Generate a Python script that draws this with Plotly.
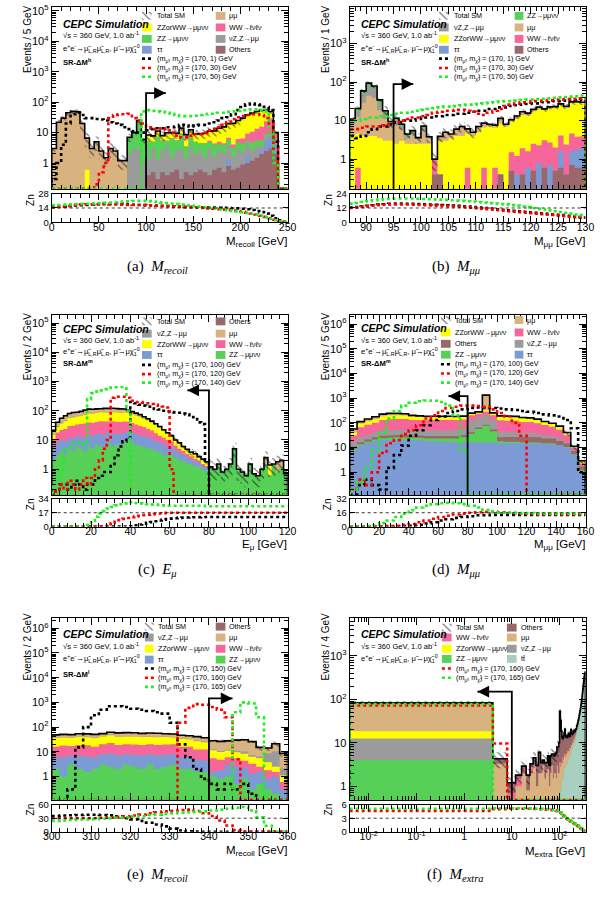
import numpy as np
import plotly.graph_objects as go

W, H = 612, 900
SANS = "Liberation Sans"
SERIF = "Liberation Serif"

COLORS = {"mumu": "#d8b27f", "ZZorWW": "#ffff00", "WW": "#f6669a", "ZZ": "#56d056",
          "nuZ": "#9b9b9b", "tautau": "#7c9bd5", "Others": "#9a676b", "tt": "#a9cfc0"}
SIG_COLORS = {"k": "#000000", "r": "#ff0000", "g": "#1fee1f"}
LABELS = {"mumu": "μμ", "ZZorWW": "ZZorWW→μμνν", "WW": "WW→ℓνℓν", "ZZ": "ZZ→μμνν",
          "nuZ": "νZ,Z→μμ", "tautau": "ττ", "Others": "Others", "tt": "tt\u0304", "TOT": "Total SM"}

DEC_VALS = [1, 10, 100, 1000, 1e4, 1e5, 1e6]
DEC_TEXT = ["1", "10", "10<sup>2</sup>", "10<sup>3</sup>", "10<sup>4</sup>", "10<sup>5</sup>", "10<sup>6</sup>"]
LOGX_VALS = [0.01, 0.1, 1, 10, 100]
LOGX_TEXT = ["10<sup>-2</sup>", "10<sup>-1</sup>", "1", "10", "10<sup>2</sup>"]
MINOR_LOG = [m * 10.0 ** e for e in range(-3, 7) for m in range(2, 10)]

# ===================== (a) M_recoil, 5 GeV bins =====================
edges_a = np.arange(0, 255, 5)
mumu_a = [3, 22, 30, 45, 50, 48, 20, 6, 3, 5, 2.5, 1.5, 3, 2.5, 1.2, 1.2, 0, 0, 0, 0,
          1, 0.8, 1, 0.5, 1.5, 1, 1, 2.5, 3, 2.5, 1, 1, 1, 0.8, 1, 1, 1, 1, 1, 1,
          1.5, 1.5, 1, 1, 1, 1, 0.5, 0, 0, 0]
zzww_a = [0, 0, 0, 0, 0, 0, 0, 0.6, 0, 0, 0, 0, 0, 0, 0, 0, 0, 0, 0, 0,
          2, 2, 3, 2, 3, 2.5, 3, 2, 2, 2.5, 3, 3.5, 4, 5, 6, 8, 10, 12, 15, 18,
          22, 28, 32, 35, 38, 30, 20, 1, 0, 0]
ww_a = [0] * 27 + [0.8, 0, 0, 0, 0, 0, 0.5, 0.3, 0.8, 0.5, 1, 1, 1.5, 2, 4, 6, 8, 10, 15, 20, 5, 0, 0]
zz_a = [0] * 16 + [5, 7, 22, 5, 4, 2, 6, 3, 2, 5, 3, 6, 2, 4, 3, 2, 3, 2, 2.5, 1.5, 2, 2, 1.5, 2,
                   2, 1.5, 2, 2, 2, 1.5, 1, 0, 0, 0]
nuz_a = [0] * 16 + [2, 3, 3, 1, 1, 2.5, 1, 2, 3, 1, 2, 2.5, 1, 3, 1.5, 2, 1, 2.5, 1, 2, 1.5, 2.5, 1, 2,
                    1.5, 2, 1.5, 2, 1, 1.5, 1, 0, 0, 0]
tau_a = [0] * 37 + [0.5, 0, 0, 0, 0.7, 0, 0, 0.6, 3, 4, 2, 0, 0]
oth_a = [0] * 20 + [0.4, 0.5, 0.3, 0.5, 0.4, 0.5, 0.6, 0.3, 0.5, 0.4, 0.5, 0.6, 0.5, 0.4, 0.6, 0.7, 0.5,
                    0.8, 0.6, 0.7, 0.9, 1.0, 1.2, 1.5, 2, 2.5, 3, 2, 0, 0]
err_a = [0.2] * 6 + [0.5] * 10 + [0.3] * 4 + [0.35] * 20 + [0.15] * 7 + [0.3] + [0] * 2
sig1_a = [0.3, 1, 4, 20, 40, 45, 38, 30, 30, 28, 27, 25, 22, 20, 18, 15, 13, 11, 10, 10,
          12, 13, 14, 14, 15, 15, 16, 18, 17, 16, 17, 18, 18, 20, 22, 25, 30, 32, 40, 55,
          70, 85, 90, 85, 80, 70, 55, 5, 0, 0]
sig2_a = [0] * 9 + [0.2, 0.5, 1, 30, 38, 40, 40, 42, 30, 25, 20, 15, 13, 13, 14, 12, 10, 8, 7, 7,
                    8, 9, 9, 10, 12, 13, 15, 18, 22, 28, 32, 35, 38, 40, 40, 38, 30, 20, 3, 0, 0]
sig3_a = [0] * 19 + [50, 55, 52, 50, 48, 45, 42, 38, 35, 35, 35, 36, 38, 40, 42, 42, 45, 45, 48, 50,
                     52, 55, 55, 58, 58, 55, 50, 10, 1, 0, 0]
zn1_a = [15.0, 15.3, 15.6, 15.9, 16.2, 16.5, 16.8, 17.1, 17.4, 17.7, 17.9, 18.0, 18.0, 17.9, 17.8,
         17.6, 17.4, 17.2, 17.0, 16.8, 16.6, 16.4, 16.2, 16.0, 15.8, 15.6, 15.4, 15.2, 15.0, 14.9,
         14.8, 14.7, 14.6, 14.5, 14.4, 14.3, 14.2, 14.0, 13.8, 13.6, 13.3, 12.8, 12.0, 11.0, 10.0,
         8.5, 6.5, 4.0, 2.0, 0.5]
zn2_a = [14.5, 15.0, 15.5, 16.0, 16.5, 17.0, 17.3, 17.5, 17.6, 17.7, 17.7, 17.6, 17.5, 17.4, 17.3,
         17.2, 17.1, 17.0, 16.9, 16.8, 16.7, 16.5, 16.3, 16.1, 15.9, 15.7, 15.5, 15.3, 15.1, 15.0,
         14.7, 14.4, 14.0, 13.6, 13.2, 12.8, 12.4, 12.0, 11.5, 11.0, 10.3, 9.5, 8.6, 7.6, 6.5,
         5.3, 4.0, 2.6, 1.3, 0.3]
zn3_a = [16.8, 17.0, 17.2, 17.4, 17.6, 17.8, 18.0, 18.2, 18.4, 18.6, 18.8, 19.0, 19.3, 19.6, 19.9,
         20.2, 20.5, 20.8, 21.0, 21.0, 20.7, 20.3, 19.8, 19.3, 18.8, 18.3, 17.8, 17.3, 16.8, 16.3,
         15.8, 15.3, 14.8, 14.2, 13.6, 13.0, 12.4, 11.8, 11.2, 10.6, 10.0, 9.2, 8.4, 7.5, 6.5,
         5.0, 3.5, 2.0, 0.8, 0.2]

# ===================== (b) M_mumu, 1 GeV bins, 87-130 =====================
edges_b = np.arange(87, 131, 1)
oth_b = [0] * 15 + [0.4, 0.4] + [0] * 10 + [0.4, 0, 0.5, 0, 0.4, 0, 0.5, 0, 0.6, 0, 0.5, 0.6, 0.4, 0.7, 0.6, 0.6]
tau_b = [0] * 30 + [0.4, 0, 0.6, 0, 0.8, 0, 0.7, 0, 1, 0, 0.9, 1.2, 1.3]
ww_b = [0, 0.6] + [0] * 13 + [0.6] + [0] * 5 + [0.6, 0, 0, 0.6, 0, 0.6, 0, 0, 1, 0.8, 1.5, 1, 2, 1.5, 2.5,
                                              2, 1.5, 2.5, 2, 3, 2, 2]
zzww_b = [4, 4, 4, 4, 4, 3.5, 3, 3, 2.5, 3, 2.5, 2.5, 2.5, 2.5, 2.5, 0, 2.5, 3, 3.5, 4, 4, 4, 4, 5, 6,
          7, 6, 8, 7, 8, 10, 12, 12, 15, 18, 16, 18, 20, 22, 20, 25, 25, 25]
mumu_b = [4, 8, 25, 40, 35, 15, 8, 4, 5, 3, 1, 2, 0.8, 3, 1, 0, 1, 2, 1, 2, 3, 1.5, 1, 2, 2,
          1, 1, 3, 1, 1, 2, 3, 2, 2, 2, 1, 2, 1, 1, 1, 1, 2, 1]
nuz_b = [1, 4, 20, 35, 30, 10, 4, 1.5, 2, 1, 0.5, 0.5, 0, 1, 0] + [0] * 28
zz_b = [2, 4, 10, 15, 10, 6, 3, 1, 2, 1, 0.5, 0.5, 0.3, 0.7, 0.3] + [0] * 28
err_b = [0.12] * 6 + [0.3] * 9 + [0.5] + [0.3] * 8 + [0.15] * 19
sig1_b = [4, 3.5, 4, 5, 6, 7, 7, 8, 9, 9, 10, 10, 11, 12, 12, 13, 13, 14, 14, 15, 15, 16, 17, 18, 18,
          20, 20, 22, 22, 24, 25, 26, 27, 28, 28, 30, 30, 32, 32, 33, 35, 34, 35]
sig2_b = [6, 6, 6.5, 7, 7, 7, 7.5, 8, 9, 10, 11, 12, 12, 13, 14, 16, 17, 18, 18, 19, 19, 18, 17, 15, 14,
          16, 18, 20, 24, 26, 28, 30, 30, 32, 32, 33, 34, 34, 35, 36, 36, 37, 38]
sig3_b = [9, 10, 11, 12, 12, 13, 13, 14, 15, 16, 16, 17, 18, 19, 20, 21, 22, 23, 23, 24, 25, 26, 26, 27,
          28, 29, 30, 31, 32, 32, 33, 34, 35, 35, 36, 37, 38, 39, 40, 41, 42, 43, 45]
zn1_b = [12.4, 12.8, 13.3, 13.8, 14.3, 14.8, 15.2, 15.5, 15.7, 15.7, 15.6, 15.5, 15.3, 15.1, 14.9,
         14.7, 14.5, 14.3, 14.0, 13.8, 13.5, 13.2, 12.8, 12.4, 12.0, 11.5, 11.0, 10.5, 10.0, 9.6,
         9.2, 8.8, 8.4, 8.0, 7.6, 7.2, 6.8, 6.4, 6.0, 5.5, 5.0, 4.5, 4.0]
zn2_b = [12.0, 12.4, 12.9, 13.4, 13.9, 14.3, 14.7, 15.0, 15.0, 15.0, 14.9, 14.8, 14.6, 14.4, 14.2,
         14.0, 13.8, 13.6, 13.4, 13.2, 13.0, 12.7, 12.3, 11.9, 11.5, 11.0, 10.5, 10.1, 9.7, 9.3,
         8.9, 8.5, 8.1, 7.7, 7.3, 6.9, 6.5, 6.1, 5.7, 5.2, 4.7, 4.3, 3.9]
zn3_b = [15.7, 16.2, 17, 17.8, 18.5, 19, 19.5, 19.8, 20, 20, 20, 20, 19.8, 19.6, 19.4, 19.2, 19,
         18.8, 18.5, 18.2, 18, 17.7, 17.4, 17, 16.6, 16.2, 15.8, 15.4, 15, 14.5, 14, 13.3, 12.7,
         12, 11.3, 10.7, 10, 9.3, 8.6, 8, 7.3, 6.6, 6]

# ===================== (c) E_mu, 2 GeV bins =====================
edges_c = np.arange(0, 122, 2)
zz_c = [2, 3, 4, 3, 5, 4, 6, 5, 4, 6, 5, 7, 6, 5, 8, 6, 7, 6, 8, 10, 8, 7, 6, 6, 5, 5, 4, 4, 3, 3,
        3, 2.5, 2, 2, 1.5, 1.5, 1.2, 1.2, 1, 0.8, 1.2, 1, 1.5, 0.8, 1, 1.5, 5, 1, 0.8, 0.6,
        1.5, 0.7, 0.6, 1, 1.5, 0.6, 1.5, 0.8, 1.2, 0.7]
tau_c = [3, 5, 6, 6, 7, 7, 8, 8, 8, 9, 9, 9, 10, 10, 10, 10, 10, 10, 10, 10, 10, 9, 8, 8, 7, 6, 5, 4, 4, 3,
         3, 2, 1.5, 1.2, 1, 0.8, 0.6, 0.5, 0.3, 0.3] + [0] * 20
ww_c = [5, 10, 12, 15, 18, 20, 20, 22, 25, 25, 25, 25, 28, 28, 25, 28, 25, 25, 25, 22, 20, 18, 16, 14, 12,
        10, 8, 6, 5, 4, 3, 2, 1.5, 1, 0.8, 0.5, 0.5, 0.3, 0.2, 0.2] + [0] * 20
zzww_c = [5, 10, 15, 20, 25, 28, 30, 32, 35, 40, 40, 42, 45, 45, 45, 45, 45, 45, 45, 42, 38, 35, 32, 25, 22,
          18, 15, 12, 8, 6, 4, 3, 2.5, 1.5, 1.2, 0.8, 0.8, 0.5, 0.5, 0.3] + [0] * 15 + [0.8, 0, 0, 0, 0]
nuz_c = [1, 2, 3, 3, 3, 3, 3, 3, 3, 3, 3, 3, 3, 2, 2, 2, 2, 2, 2, 2, 2, 1.5, 1.5, 1, 1, 1, 0.5, 0.5, 0.5,
         0.3, 0.3] + [0] * 29
mumu_c = [5, 10, 15, 20, 22, 25, 22, 25, 30, 30, 30, 30, 25, 30, 30, 30, 30, 28, 25, 20, 15, 12, 10, 8, 6,
          4, 3, 2, 1.5, 1, 0.8, 0.5, 0.5, 0.3, 0.3, 0.3, 0.3, 0.2, 0.2, 0.2] + [0] * 14 + [1, 0, 0, 1, 0.8, 0]
oth_c = [0.3] * 30 + [0] * 30
err_c = [0.06] * 30 + [0.25] * 10 + [0.6] * 20
sig1_c = [0, 0.2, 0.3, 0.3, 0.2, 0.3, 0.4, 0.3, 0.2, 0.3, 0.3, 0.5, 0.6, 0.8, 0.8, 1.5, 3, 6, 9, 12,
          200, 180, 160, 150, 140, 120, 115, 110, 100, 95, 90, 88, 85, 80, 75, 70, 60, 40, 35, 2] + [0] * 20
sig2_c = [0, 0.2, 0.3, 0.2, 0.4, 0.3, 0.2, 0.3, 0.5, 0.3, 0.5, 1, 2, 5, 10, 280, 300, 300, 300, 280,
          220, 200, 200, 190, 180, 170, 160, 150, 140, 130, 1] + [0] * 29
sig3_c = [0.3, 0.5, 1, 5, 6, 8, 8, 8, 7, 250, 400, 450, 500, 550, 600, 620, 640, 650, 650, 100] + [0] * 40
zn1_c = [0] * 20 + [0.3, 1.5, 2.5, 3.5, 4.5, 5.5, 6.5, 7.5, 8.5, 9.2, 9.8, 10.3, 10.7, 11, 11.2, 11.4,
                    11.5, 11.6, 11.7, 11.7] + [11.7] * 20
zn2_c = [0] * 14 + [1, 4, 6, 8, 9.5, 10.5, 11.5, 12.5, 13.2, 14, 14.5, 15, 15.5, 16, 16.5, 17] + [17] * 30
zn3_c = [0] * 9 + [2, 7, 12, 16, 19, 22, 24, 26, 27.5, 28.5, 30, 30, 29, 28.5, 28, 27.5, 27, 27, 26.5, 26] \
        + [25.5] * 10 + [25] * 21

# ===================== (d) M_mumu, 5 GeV bins =====================
edges_d = np.arange(0, 165, 5)
tau_d = [8, 12, 15, 18, 20, 20, 20, 20, 20, 20, 18, 18, 17, 17, 16, 16, 16, 16, 16, 16, 15, 15, 15, 15,
         15, 15, 14, 14, 12, 10, 5, 1]
zz_d = [1, 1.5, 2, 3, 4, 5, 6, 6, 5, 5, 5, 5, 6, 6, 7, 10, 20, 40, 60, 30, 3, 2, 2, 1.5, 1.5, 1, 1, 1,
        0.5, 0.5, 0.3, 0.2]
oth_d = [2, 3, 4, 5, 6, 6, 6, 6, 6, 6, 6, 6, 6, 6, 6, 6, 6, 8, 8, 8, 8, 10, 10, 10, 10, 10, 8, 8, 6, 4, 2, 0.5]
nuz_d = [5, 10, 12, 15, 20, 20, 20, 20, 20, 20, 20, 20, 20, 20, 22, 25, 80, 100, 130, 80, 20, 15, 15, 12,
         12, 10, 8, 6, 4, 2, 0.5, 0]
ww_d = [15, 40, 50, 60, 80, 90, 90, 90, 80, 80, 80, 80, 80, 80, 80, 80, 80, 70, 70, 70, 80, 80, 80, 70, 70,
        60, 50, 40, 30, 15, 2, 0.5]
zzww_d = [10, 25, 30, 40, 50, 60, 60, 55, 45, 40, 40, 40, 40, 40, 40, 40, 40, 40, 40, 40, 60, 60, 55, 50,
          45, 40, 30, 25, 20, 8, 0.5, 0.2]
mumu_d = [15, 20, 30, 35, 45, 40, 40, 35, 25, 20, 15, 15, 15, 15, 10, 10, 5, 5, 1000, 10, 5, 5, 5, 5, 5, 5,
          2, 2, 1, 1, 1, 0.5]
err_d = [0.04] * 29 + [0.3] * 3
sig1_d = [0, 0.3, 0.5, 0.3, 0.2, 1.5, 5, 12, 30, 50, 80, 130, 180, 250, 300, 350, 400, 420, 420, 400, 380,
          350, 330, 300, 280, 250, 220, 200, 180, 130, 60, 1]
sig2_d = [0.2, 0.5, 0.3, 1, 6, 15, 20, 35, 50, 80, 150, 200, 300, 400, 450, 500, 500, 480, 450, 350, 250,
          180, 100, 30, 0, 0, 0, 0, 0, 0, 0, 0]
sig3_d = [0.2, 0.4, 1.5, 8, 40, 150, 300, 500, 650, 750, 800, 780, 700, 500, 200, 8] + [0] * 16
zn1_d = [0, 0, 0, 0, 0, 0, 0.2, 0.5, 1, 2, 3.5, 5, 7, 8.5, 10, 11, 12, 13, 13, 13.5, 13.5, 13.5, 13.5,
         13.5, 13.5, 13.5, 13.5, 13.5, 13.5, 13.5, 13.5, 13.5]
zn2_d = [0, 0, 0, 0, 0.3, 0.6, 1, 2, 3, 5, 7, 9, 11, 12.5, 14, 15, 16, 16.5, 17, 17, 16.5, 16, 15.5, 15,
         14.5, 14, 14, 14, 14, 14, 14, 14]
zn3_d = [0, 0, 0.5, 1.5, 4, 7, 11, 15, 19, 22, 24, 26, 27, 27.5, 27, 26, 24, 22, 19, 17, 16, 16, 16, 15.5,
         15.5, 15, 15, 15, 15, 15, 15, 15]

# ===================== (e) M_recoil, 2 GeV bins, 300-360 =====================
edges_e = np.arange(300, 362, 2)
zz_e = [2, 1, 3, 2, 1.5, 2, 3, 2.5, 2, 3, 2.5, 2, 3, 2, 2.5, 3, 2, 2, 1.5, 1.5, 1, 0.8, 1, 0.5, 0.8, 0.3,
        0.5, 0.3, 0.2, 0]
tau_e = [4, 5, 4, 5, 5, 4, 5, 6, 5, 5, 5, 5, 5, 5, 5, 5, 4, 4, 3, 3, 0.5, 1, 2, 2, 1.5, 1, 1, 0.5, 0.8, 0.3]
ww_e = [10, 12, 10, 12, 12, 10, 12, 14, 12, 12, 12, 12, 12, 12, 12, 12, 10, 10, 8, 8, 4, 3, 3, 3, 2, 2, 1,
        1, 0.5, 0.3]
zzww_e = [20, 20, 20, 22, 20, 20, 22, 24, 22, 22, 22, 22, 20, 20, 20, 18, 18, 16, 14, 12, 6, 5, 5, 4, 4, 3,
          3, 2, 1, 0.5]
nuz_e = [2, 2, 2, 2, 2, 2, 2, 3, 2, 2, 2, 2, 2, 2, 2, 2, 2, 2, 2, 2, 1, 1, 1, 1.5, 2, 1, 1, 5, 8, 1]
mumu_e = [10, 10, 10, 10, 12, 12, 10, 12, 15, 15, 15, 12, 15, 15, 12, 12, 10, 10, 12, 10, 15, 15, 15, 18,
          20, 18, 8, 5, 10, 6]
oth_e = [0.5] * 30
err_e = [0.05] * 20 + [0.12] * 6 + [0.25] * 4
sig1_e = [0, 0, 0.3, 15, 100, 300, 500, 700, 700, 650, 550, 500, 450, 400, 350, 150, 20, 6, 2, 0.8, 0.5,
          0.3, 0.5, 0.3, 0.5, 0.2, 0, 0, 0, 0]
sig2_e = [0] * 16 + [150, 600, 850, 800, 650, 500, 250, 5] + [0] * 6
sig3_e = [0] * 23 + [400, 1000, 900, 250] + [0] * 3
zn1_e = [35, 36, 36.5, 37, 37.5, 37.5, 37, 36.5, 34, 30, 27, 24, 20, 16, 12, 7, 3, 1, 0.3] + [0] * 11
zn2_e = [30, 30, 30, 30, 30, 30, 31, 32, 33, 34, 36, 38, 41, 43, 45, 46.5, 48, 49, 46, 41, 35, 25, 14, 4] + [0] * 6
zn3_e = [24, 25, 26, 27, 27, 28, 29, 30, 31, 32, 34, 35, 37, 38, 40, 41, 42, 43, 44, 45, 47, 49, 51, 53, 55,
         47, 32, 13, 0, 0]

# ===================== (f) M_extra, 4 GeV bins, log x =====================
edges_f = np.arange(0, 352, 4)
tt_f = [0] * 25 + [0.5, 0.8, 1, 1.3, 1.6, 2, 2.4] + [2.6, 2.8, 3, 3.2, 3.5, 3.8, 4, 4.3, 4.6, 5, 5.5] \
       + [6, 6.5, 7, 7.5, 8, 8.5, 9, 9.5, 10, 11, 12, 13] + [14, 15, 17, 19, 21, 23, 26, 29, 32] \
       + [36, 40, 45, 50, 55, 60, 70, 80, 90, 100] + [115, 130, 150, 170, 200, 230, 260, 300] \
       + [330, 360, 380, 400, 420]
zz_f = [4] + [0] * 86
nuz_f = [8.5, 0.3] + [0] * 85
zzww_f = [6] + [0] * 86
mumu_f = [62, 3, 0.3, 1, 2, 0.8, 2, 3, 1, 2, 2, 3, 1.5, 2, 2.5, 1, 2, 3, 1.5, 2, 2, 1.5, 3, 2, 2,
          3, 2, 2.5, 2, 3, 2, 2.5, 3, 2, 2.5, 2, 3, 2, 2.5, 2, 3, 2, 2, 2.5, 2,
          2, 2.5, 2, 2, 3, 2, 2, 2.5, 2, 2, 2, 2, 2.5, 2, 2, 2, 2.5, 2, 2, 2,
          2, 2, 2, 2, 2.5, 2, 2, 2, 2, 2, 2, 2, 2, 2, 2, 2, 2, 2, 2, 2, 2, 2]
ww_f = [0.3, 0, 0.4, 0.5, 0.4, 0, 0.8] + [0] * 80
oth_f = [2, 1, 0.5, 0.3, 0.5, 1, 0.5, 1.5, 2, 4, 1.5, 1, 2, 1.5, 2.5, 2, 3, 2.5, 4, 3, 3.5, 4.5, 5, 6, 8,
         50, 30, 15, 10, 8, 10, 12, 15, 10, 8, 8, 7, 9, 10, 8, 8, 7, 10, 12, 8, 7, 6, 6, 8, 7,
         6, 6, 5, 6, 5, 5, 4, 5, 4, 4, 4, 4, 3, 3, 4, 3, 3, 3, 3, 3, 3, 3, 2, 2, 2, 2, 2, 2, 2, 2,
         2, 2, 2, 2, 2, 2, 2]
err_f = [0.1] + [0.4] * 24 + [0.15] * 62
sig2_f = [72, 9.6] + [0] * 85
sig3_f = [78] + [0] * 86
zn2_f = [4.6, 5.0, 5.1, 5.1, 5.1, 5.1, 5.1, 5.05, 5.05, 5.0, 5.0, 4.95, 4.95, 4.9, 4.9, 4.85, 4.85, 4.8,
         4.75, 4.75, 4.7, 4.65, 4.6, 4.55, 4.5,
         4.45, 4.25, 4.05, 3.85, 3.65, 3.55, 3.45, 3.3, 3.15, 3.05,
         2.95, 2.85, 2.75, 2.65, 2.55, 2.45, 2.4, 2.35, 2.25, 2.15,
         2.1, 2.05, 2.0, 1.95, 1.9, 1.85, 1.8, 1.75, 1.65, 1.6,
         1.55, 1.5, 1.45, 1.4, 1.35, 1.3, 1.25, 1.2, 1.15, 1.1,
         1.05, 0.95, 0.9, 0.85, 0.8, 0.75, 0.7, 0.65, 0.6, 0.55,
         0.5, 0.45, 0.4, 0.35, 0.3, 0.25, 0.2, 0.15, 0.1, 0.05, 0.02, 0]
zn3_f = [5.1, 5.2, 5.2, 5.2, 5.2, 5.2, 5.15, 5.1, 5.1, 5.1, 5.05, 5.0, 5.0, 5.0, 4.95, 4.9, 4.9, 4.85,
         4.8, 4.8, 4.75, 4.7, 4.65, 4.6, 4.55,
         4.5, 4.3, 4.1, 3.9, 3.7, 3.6, 3.5, 3.35, 3.2, 3.1,
         3.0, 2.9, 2.8, 2.7, 2.6, 2.5, 2.45, 2.4, 2.3, 2.2,
         2.15, 2.1, 2.05, 2.0, 1.95, 1.9, 1.85, 1.8, 1.7, 1.65,
         1.6, 1.55, 1.5, 1.45, 1.4, 1.35, 1.3, 1.25, 1.2, 1.15,
         1.1, 1.0, 0.95, 0.9, 0.85, 0.8, 0.75, 0.7, 0.65, 0.6,
         0.55, 0.5, 0.45, 0.4, 0.35, 0.3, 0.25, 0.2, 0.15, 0.1, 0.05, 0]

SIG_TXT = "(m<sub>μ\u0303</sub>, m<sub>χ\u0303</sub>) = (170, {}) GeV"

PANELS = [
    dict(edges=edges_a, logx=False, xr=[0, 250], yr=[-0.844, 5.13], xmaj=50, xmin=10,
         stack=[("Others", oth_a), ("tautau", tau_a), ("nuZ", nuz_a), ("ZZ", zz_a), ("WW", ww_a),
                ("ZZorWW", zzww_a), ("mumu", mumu_a)], err=err_a,
         sig=[("k", sig1_a, 1), ("r", sig2_a, 30), ("g", sig3_a, 50)], zn=[zn1_a, zn2_a, zn3_a], zntop=28,
         dx=[44, 287], dy=[1, 185], dry=[190, 219], cut=(100, 200, 121),
         ytitle="Events / 5 GeV", ytit_y=33, zn_y=196, xtitle="M<sub>recoil</sub> [GeV]", xtit_y=239,
         caption="(a)  <i>M<sub>recoil</sub></i>", cap_y=264, sr="SR-ΔM<sup>h</sup>",
         col1=["TOT", "ZZorWW", "ZZ", "tautau"], col2=["mumu", "WW", "nuZ", "Others"],
         b1=(137, 147, 150), b2=(213, 223, 225), rows=[10, 21.7, 33.3, 44.3], srows=[53.3, 62.7, 71.7],
         tx=54, trows=[18.3, 29.3, 42.7, 56.7]),
    dict(edges=edges_b, logx=False, xr=[87, 130], yr=[-0.77, 3.95], xmaj=5, xmin=1,
         stack=[("Others", oth_b), ("tautau", tau_b), ("WW", ww_b), ("ZZorWW", zzww_b), ("mumu", mumu_b),
                ("nuZ", nuz_b), ("ZZ", zz_b)], err=err_b,
         sig=[("k", sig1_b, 1), ("r", sig2_b, 30), ("g", sig3_b, 50)], zn=[zn1_b, zn2_b, zn3_b], zntop=24,
         dx=[351, 594], dy=[1, 185], dry=[190, 219], cut=(95, 89, 98.6),
         ytitle="Events / 1 GeV", ytit_y=33, zn_y=196, xtitle="M<sub>μμ</sub> [GeV]", xtit_y=239,
         caption="(b)  <i>M<sub>μμ</sub></i>", cap_y=264, sr="SR-ΔM<sup>h</sup>",
         col1=["TOT", "nuZ", "ZZorWW", "tautau"], col2=["ZZ", "mumu", "WW", "Others"],
         b1=(443, 453, 456), b2=(521, 530, 532), rows=[10, 21.7, 33.3, 44.3], srows=[53.3, 62.7, 71.7],
         tx=361, trows=[18.3, 29.3, 42.7, 56.7]),
    dict(edges=edges_c, logx=False, xr=[0, 120], yr=[-0.88, 5.27], xmaj=20, xmin=4,
         stack=[("ZZ", zz_c), ("tautau", tau_c), ("WW", ww_c), ("ZZorWW", zzww_c), ("nuZ", nuz_c),
                ("mumu", mumu_c), ("Others", oth_c)], err=err_c,
         sig=[("k", sig1_c, 100), ("r", sig2_c, 120), ("g", sig3_c, 140)], zn=[zn1_c, zn2_c, zn3_c], zntop=34,
         dx=[44, 287], dy=[313, 495], dry=[499, 527], cut=(80, 500, 69),
         ytitle="Events / 2 GeV", ytit_y=344, zn_y=504, xtitle="E<sub>μ</sub> [GeV]", xtit_y=546,
         caption="(c)  <i>E<sub>μ</sub></i>", cap_y=571, sr="SR-ΔM<sup>m</sup>",
         col1=["TOT", "nuZ", "ZZorWW", "tautau"], col2=["Others", "mumu", "WW", "ZZ"],
         b1=(137, 147, 150), b2=(213, 223, 225), rows=[319.3, 331.7, 342.3, 353.3],
         srows=[363.3, 372.7, 381.3], tx=54, trows=[326.7, 337.7, 350, 361]),
    dict(edges=edges_d, logx=False, xr=[0, 160], yr=[-0.92, 6.36], xmaj=20, xmin=4,
         stack=[("tautau", tau_d), ("ZZ", zz_d), ("Others", oth_d), ("nuZ", nuz_d), ("WW", ww_d),
                ("ZZorWW", zzww_d), ("mumu", mumu_d)], err=err_d,
         sig=[("k", sig1_d, 100), ("r", sig2_d, 120), ("g", sig3_d, 140)], zn=[zn1_d, zn2_d, zn3_d], zntop=32,
         dx=[351, 594], dy=[313, 495], dry=[499, 527], cut=(80, 1200, 67),
         ytitle="Events / 5 GeV", ytit_y=344, zn_y=504, xtitle="M<sub>μμ</sub> [GeV]", xtit_y=546,
         caption="(d)  <i>M<sub>μμ</sub></i>", cap_y=571, sr="SR-ΔM<sup>m</sup>",
         col1=["TOT", "ZZorWW", "Others", "ZZ"], col2=["mumu", "WW", "nuZ", "tautau"],
         b1=(445, 455, 457), b2=(521, 530, 532), rows=[318, 330.5, 342, 353],
         srows=[362.7, 372, 381.3], tx=361, trows=[326, 338.3, 350, 361]),
    dict(edges=edges_e, logx=False, xr=[300, 360], yr=[-0.96, 6.4], xmaj=10, xmin=2,
         stack=[("ZZ", zz_e), ("tautau", tau_e), ("WW", ww_e), ("ZZorWW", zzww_e), ("nuZ", nuz_e),
                ("mumu", mumu_e), ("Others", oth_e)], err=err_e,
         sig=[("k", sig1_e, 150), ("r", sig2_e, 160), ("g", sig3_e, 165)], zn=[zn1_e, zn2_e, zn3_e], zntop=60,
         dx=[44, 287], dy=[620, 804], dry=[808.5, 836], cut=(340, 1450, 346),
         ytitle="Events / 2 GeV", ytit_y=648, zn_y=813, xtitle="M<sub>recoil</sub> [GeV]", xtit_y=855,
         caption="(e)  <i>M<sub>recoil</sub></i>", cap_y=880, sr="SR-ΔM<sup>l</sup>",
         col1=["TOT", "nuZ", "ZZorWW", "tautau"], col2=["Others", "mumu", "WW", "ZZ"],
         b1=(140, 149, 151), b2=(213, 223, 225), rows=[628.3, 639.3, 650.7, 661.7],
         srows=[670.7, 680, 689.3], tx=54, trows=[636, 647.7, 661, 676.7]),
    dict(edges=edges_f, logx=True, xr=[np.log10(0.004), np.log10(350)], yr=[-0.32, 3.86],
         stack=[("tt", tt_f), ("ZZ", zz_f), ("nuZ", nuz_f), ("ZZorWW", zzww_f), ("mumu", mumu_f),
                ("WW", ww_f), ("Others", oth_f)], err=err_f,
         sig=[("r", sig2_f, 160), ("g", sig3_f, 165)], zn=[zn2_f, zn3_f], zntop=6,
         dx=[351, 594], dy=[620, 804], dry=[808.5, 836], cut=(10, 150, 1.9),
         ytitle="Events / 4 GeV", ytit_y=648, zn_y=813, xtitle="M<sub>extra</sub> [GeV]", xtit_y=856,
         caption="(f)  <i>M<sub>extra</sub></i>", cap_y=880, sr=None,
         col1=["TOT", "WW", "ZZorWW", "ZZ"], col2=["Others", "mumu", "nuZ", "tt"],
         b1=(446, 456, 458), b2=(513, 523, 525), rows=[629.3, 639.3, 650.7, 661],
         srows=[670.7, 680], tx=361, trows=[636, 648.3, 661]),
]


def step_xy(edges, vals, floor=None):
    e = np.asarray(edges, float)
    v = np.asarray(vals, float)
    if floor is None:
        return np.append(e[:-1], e[-1]), np.append(v, v[-1])
    return np.concatenate([[e[0]], e[:-1], [e[-1]]]), np.concatenate([[floor], v, [floor]])


def band_xy(edges, lo, hi):
    e = np.asarray(edges, float)
    xu = np.repeat(e, 2)[1:-1]
    yu = np.repeat(hi, 2)
    yl = np.repeat(lo, 2)[::-1]
    return np.concatenate([xu, xu[::-1], [xu[0]]]), np.concatenate([yu, yl, [yu[0]]])


fig = go.Figure()
annotations, shapes = [], []
layout = dict(width=W, height=H, margin=dict(l=0, r=0, t=0, b=0), paper_bgcolor="white",
              plot_bgcolor="rgba(0,0,0,0)", showlegend=False, hovermode=False,
              font=dict(family=SANS, color="black", size=11))

AX = dict(showline=True, linecolor="black", linewidth=1, mirror="allticks", ticks="inside",
          tickcolor="black", tickwidth=1, showgrid=False, zeroline=False, fixedrange=True)

HATCH = dict(shape="\\", fgcolor="black", bgcolor="rgba(0,0,0,0)", size=5, solidity=0.28, fillmode="overlay")


def pxX(px):
    return px / W


def pxY(py):
    return 1 - py / H


def ann(x, y, text, size=7.2, xanchor="left", **kw):
    d = dict(x=pxX(x), y=pxY(y), xref="paper", yref="paper", text=text, showarrow=False,
             xanchor=xanchor, yanchor="middle", font=dict(family=kw.pop("family", SANS), size=size, color="black"))
    d.update(kw)
    annotations.append(d)


for k, P in enumerate(PANELS):
    nm, nr = 2 * k + 1, 2 * k + 2
    xm = "x" if nm == 1 else f"x{nm}"
    ym = "y" if nm == 1 else f"y{nm}"
    xr_, yr_ = f"x{nr}", f"y{nr}"
    nb = len(P["edges"]) - 1
    for name, v in P["stack"]:
        assert len(v) == nb, (k, name, len(v), nb)
    for c, v, _ in P["sig"]:
        assert len(v) == nb, (k, c, len(v), nb)
    for v in P["zn"]:
        assert len(v) == nb, (k, "zn", len(v), nb)
    assert len(P["err"]) == nb, (k, "err")

    edges = np.asarray(P["edges"], float).copy()
    if P["logx"]:
        edges[0] = 10 ** P["xr"][0]
    ylo, yhi = P["yr"]
    tiny = 10 ** (ylo - 3)
    bottom = 10 ** (ylo + 0.004)

    vals = np.array([np.asarray(v, float) for _, v in P["stack"]])
    cum = np.cumsum(vals, axis=0)
    for j in range(len(vals) - 1, -1, -1):
        x, y = step_xy(edges, np.maximum(cum[j], tiny), tiny)
        fig.add_trace(go.Scatter(x=x, y=y, mode="lines", line=dict(width=0, shape="hv"), fill="tozeroy",
                                 fillcolor=COLORS[P["stack"][j][0]], xaxis=xm, yaxis=ym))
    tot = cum[-1]
    err = tot * np.asarray(P["err"], float)
    bx, by = band_xy(edges, np.maximum(tot - err, tiny), np.maximum(tot + err, tiny))
    fig.add_trace(go.Scatter(x=bx, y=by, mode="lines", line=dict(width=0), fill="toself",
                             fillcolor="rgba(0,0,0,0)", fillpattern=HATCH, xaxis=xm, yaxis=ym))
    x, y = step_xy(edges, np.where(tot > 0, tot, bottom), bottom)
    fig.add_trace(go.Scatter(x=x, y=y, mode="lines", line=dict(color="black", width=1.6, shape="hv"),
                             xaxis=xm, yaxis=ym))
    for c, v, _ in P["sig"]:
        v = np.asarray(v, float)
        x, y = step_xy(edges, np.where(v > 0, v, bottom), bottom)
        fig.add_trace(go.Scatter(x=x, y=y, mode="lines",
                                 line=dict(color=SIG_COLORS[c], width=2.6, dash="dot", shape="hv"),
                                 xaxis=xm, yaxis=ym))
    # cut arrow
    xc, ytop, xtip = P["cut"]
    fig.add_trace(go.Scatter(x=[xc, xc, xtip], y=[bottom, ytop, ytop], mode="lines",
                             line=dict(color="black", width=1.8), xaxis=xm, yaxis=ym))
    annotations.append(dict(x=(np.log10(xtip) if P["logx"] else xtip), y=np.log10(ytop), xref=xm, yref=ym,
                            text="", showarrow=True, arrowhead=2, arrowsize=1.3, arrowwidth=1.8,
                            arrowcolor="black", ax=(-12 if xtip > xc else 12), ay=0))
    # Zn
    for (c, _, _), v in zip(P["sig"], P["zn"]):
        x, y = step_xy(edges, v)
        fig.add_trace(go.Scatter(x=x, y=y, mode="lines",
                                 line=dict(color=SIG_COLORS[c], width=2.6, dash="dot", shape="hv"),
                                 xaxis=xr_, yaxis=yr_))
    top = P["zntop"]
    shapes.append(dict(type="line", xref=f"{xr_} domain", yref=yr_, x0=0, x1=1, y0=top / 2, y1=top / 2,
                       line=dict(color="black", width=0.8, dash="dot")))

    # axes
    dx = [pxX(P["dx"][0]), pxX(P["dx"][1])]
    dym = [pxY(P["dy"][1]), pxY(P["dy"][0])]
    dyr = [pxY(P["dry"][1]), pxY(P["dry"][0])]
    if P["logx"]:
        xt = dict(type="log", range=P["xr"], tickmode="array", tickvals=LOGX_VALS, ticktext=LOGX_TEXT,
                  minor=dict(tickmode="array", tickvals=MINOR_LOG, ticks="inside", ticklen=4, tickcolor="black"))
    else:
        xt = dict(type="linear", range=P["xr"], tickmode="linear", tick0=0, dtick=P["xmaj"],
                  minor=dict(ticks="inside", ticklen=4, dtick=P["xmin"], tickcolor="black"))
    layout["xaxis" + ("" if nm == 1 else str(nm))] = dict(AX, domain=dx, anchor=ym, showticklabels=False,
                                                          ticklen=7, **xt)
    layout[f"xaxis{nr}"] = dict(AX, domain=dx, anchor=yr_, showticklabels=True, ticklen=6,
                                tickfont=dict(size=10.5), ticklabelstandoff=-5, **xt)
    layout["yaxis" + ("" if nm == 1 else str(nm))] = dict(
        AX, domain=dym, anchor=xm, type="log", range=[ylo, yhi], tickmode="array", tickvals=DEC_VALS,
        ticktext=DEC_TEXT, ticklen=7, tickfont=dict(size=11),
        minor=dict(tickmode="array", tickvals=MINOR_LOG, ticks="inside", ticklen=4, tickcolor="black"))
    layout[f"yaxis{nr}"] = dict(AX, domain=dyr, anchor=xr_, range=[0, top], tickmode="array",
                                tickvals=[0, top / 2, top], ticktext=[str(0), f"{top // 2:g}", str(top)],
                                ticklen=5, tickfont=dict(size=9.5))

    # titles / captions
    L, R = P["dx"]
    ann(L - 25, P["ytit_y"], P["ytitle"], size=10, xanchor="center", textangle=-90)
    ann(L - 22, P["zn_y"], "Zn", size=10, xanchor="center", textangle=-90)
    ann(R + 1, P["xtit_y"], P["xtitle"], size=11.5, xanchor="right")
    ann((L + R) / 2 - 12, P["cap_y"], P["caption"], size=15, xanchor="center", family=SERIF)

    # legend
    for col, (bx0, bx1, tx) in ((P["col1"], P["b1"]), (P["col2"], P["b2"])):
        for name, yc in zip(col, P["rows"]):
            if name == "TOT":
                fig.add_trace(go.Scatter(x=[bx0, bx1, bx1, bx0, bx0], y=[yc - 4, yc - 4, yc + 4, yc + 4, yc - 4],
                                         mode="lines", line=dict(width=0), fill="toself",
                                         fillcolor="rgba(0,0,0,0)", fillpattern=HATCH, xaxis="x13", yaxis="y13"))
            else:
                shapes.append(dict(type="rect", xref="paper", yref="paper", x0=pxX(bx0), x1=pxX(bx1),
                                   y0=pxY(yc + 4), y1=pxY(yc - 4), fillcolor=COLORS[name],
                                   line=dict(width=0), layer="above"))
            ann(tx, yc, LABELS[name])
    bx0, bx1, tx = P["b1"]
    for (c, _, m), yc in zip(P["sig"], P["srows"]):
        shapes.append(dict(type="line", xref="paper", yref="paper", x0=pxX(bx0), x1=pxX(bx1 + 2),
                           y0=pxY(yc), y1=pxY(yc), line=dict(color=SIG_COLORS[c], width=2.6, dash="dot")))
        ann(tx, yc, SIG_TXT.format(m))
    ann(P["tx"], P["trows"][0], "<b><i>CEPC Simulation</i></b>", size=10.5)
    ann(P["tx"], P["trows"][1], "√s = 360 GeV, 1.0 ab<sup>-1</sup>", size=7.6)
    ann(P["tx"], P["trows"][2],
        "e<sup>+</sup>e<sup>-</sup>→μ\u0303<sub>L,R</sub>μ\u0303<sub>L,R</sub>, μ\u0303→μχ\u0303<sub>1</sub><sup>0</sup>",
        size=7.6)
    if P["sr"]:
        ann(P["tx"], P["trows"][3], "<b>" + P["sr"] + "</b>", size=7.6)

layout["xaxis13"] = dict(domain=[0, 1], range=[0, W], visible=False, fixedrange=True, anchor="y13")
layout["yaxis13"] = dict(domain=[0, 1], range=[H, 0], visible=False, fixedrange=True, anchor="x13")
layout["annotations"] = annotations
layout["shapes"] = shapes
fig.update_layout(**layout)
fig.update_traces(hoverinfo="skip")
fig.write_html("out.html", config={"displayModeBar": False, "staticPlot": True},
               post_script="document.body.style.margin='0px';document.body.style.padding='0px';")
